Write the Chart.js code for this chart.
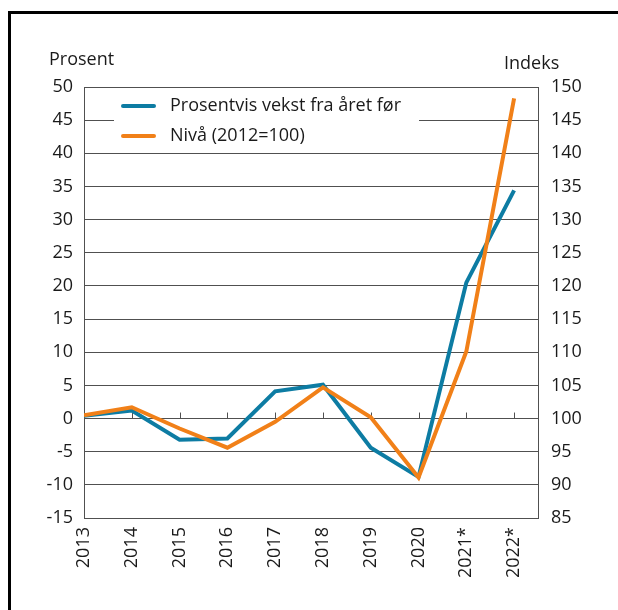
<!DOCTYPE html>
<html>
<head>
<meta charset="utf-8">
<script src="https://cdn.jsdelivr.net/npm/chart.js@4"></script>
<style>
  body { margin: 0; background: #fff; }
  #wrap { position: relative; width: 618px; height: 610px; overflow: hidden; }
  #frame { position: absolute; left: 8px; top: 11px; width: 700px; height: 700px;
           border-top: 3px solid #000; border-left: 3px solid #000; pointer-events: none; }
</style>
</head>
<body>
<div id="wrap">
  <canvas id="lineChart" width="618" height="610"></canvas>
  <div id="frame"></div>
</div>
<script>
const categories = ['2013', '2014', '2015', '2016', '2017', '2018', '2019', '2020', '2021*', '2022*'];
const vekst = [0.4, 1.2, -3.2, -3.0, 4.1, 5.1, -4.4, -8.8, 20.5, 34.4];
const nivaa = [100.5, 101.7, 98.5, 95.6, 99.5, 104.7, 100.2, 91.1, 110.1, 148.3];
const leftTicks = [-15, -10, -5, 0, 5, 10, 15, 20, 25, 30, 35, 40, 45, 50];
const rightTicks = [85, 90, 95, 100, 105, 110, 115, 120, 125, 130, 135, 140, 145, 150];

const FONT = 'Open Sans';
const gridColor = '#505050';
const textColor = '#1a1a1a';

// tittel, tegnforklaring og små streker på nullinja
const extras = {
    id: 'extras',
    beforeDatasetsDraw(chart) {
        const { ctx, scales } = chart;
        const y0 = scales.y.getPixelForValue(0);
        ctx.save();
        ctx.strokeStyle = gridColor;
        ctx.lineWidth = 1;
        for (let i = 1; i < categories.length; i++) {
            const x = Math.round(scales.x.getPixelForValue(i)) + 0.5;
            ctx.beginPath();
            ctx.moveTo(x, y0);
            ctx.lineTo(x, y0 - 6);
            ctx.stroke();
        }
        ctx.restore();
    },
    afterDatasetsDraw(chart) {
        const { ctx, chartArea } = chart;
        const l = chartArea.left, t = chartArea.top;
        ctx.save();
        ctx.fillStyle = '#fff';
        ctx.fillRect(l + 30, t + 2, 305, 58);
        ctx.font = '18px "' + FONT + '"';
        ctx.textBaseline = 'middle';
        const items = [
            { label: 'Prosentvis vekst fra året før', color: chart.data.datasets[0].borderColor },
            { label: 'Nivå (2012=100)', color: chart.data.datasets[1].borderColor }
        ];
        items.forEach((it, i) => {
            const y = t + 19 + i * 30;
            ctx.strokeStyle = it.color;
            ctx.lineWidth = 4;
            ctx.lineCap = 'round';
            ctx.beginPath();
            ctx.moveTo(l + 39, y);
            ctx.lineTo(l + 70, y);
            ctx.stroke();
            ctx.fillStyle = textColor;
            ctx.fillText(it.label, l + 86, y);
        });
        ctx.fillStyle = textColor;
        ctx.textBaseline = 'alphabetic';
        ctx.textAlign = 'left';
        ctx.fillText('Prosent', 49, t - 22);
        ctx.fillText('Indeks', chartArea.right - 34, t - 18);
        ctx.restore();
    }
};

const ctx1 = document.getElementById('lineChart').getContext('2d');
const lineChart = new Chart(ctx1, {
    type: 'line',
    data: {
        datasets: [{
            label: 'Prosentvis vekst fra året før',
            data: categories.map((c, i) => ({ x: i, y: vekst[i] })),
            borderColor: '#0d7ca3',
            borderWidth: 4,
            pointRadius: 0,
            tension: 0,
            yAxisID: 'y',
            order: 1
        }, {
            label: 'Nivå (2012=100)',
            data: categories.map((c, i) => ({ x: i, y: nivaa[i] })),
            borderColor: '#f18018',
            borderWidth: 4,
            pointRadius: 0,
            tension: 0,
            yAxisID: 'y1',
            order: 0
        }]
    },
    options: {
        responsive: false,
        animation: false,
        layout: { padding: { top: 87, left: 0, right: 0, bottom: 0 } },
        plugins: {
            legend: { display: false },
            tooltip: { enabled: false }
        },
        scales: {
            x: {
                type: 'linear',
                min: 0,
                max: 9.5,
                afterBuildTicks: axis => { axis.ticks = categories.map((c, i) => ({ value: i })); },
                afterFit: axis => { axis.height = 92; },
                grid: { display: false, drawTicks: false },
                border: { display: true, color: gridColor },
                ticks: {
                    callback: v => categories[v],
                    minRotation: 90,
                    maxRotation: 90,
                    padding: 9,
                    color: textColor,
                    font: { family: FONT, size: 18 }
                }
            },
            y: {
                position: 'left',
                min: -15,
                max: 50,
                afterBuildTicks: axis => { axis.ticks = leftTicks.map(v => ({ value: v })); },
                afterFit: axis => { axis.width = 84; },
                grid: { color: gridColor, drawTicks: false },
                border: { display: true, color: gridColor },
                ticks: {
                    callback: v => String(v),
                    padding: 11,
                    color: textColor,
                    font: { family: FONT, size: 18 }
                }
            },
            y1: {
                position: 'right',
                min: 85,
                max: 150,
                afterBuildTicks: axis => { axis.ticks = rightTicks.map(v => ({ value: v })); },
                afterFit: axis => { axis.width = 80; },
                grid: { display: false, drawTicks: false },
                border: { display: true, color: gridColor },
                ticks: {
                    callback: v => String(v),
                    padding: 13,
                    color: textColor,
                    font: { family: FONT, size: 18 }
                }
            }
        }
    },
    plugins: [extras]
});
</script>
</body>
</html>
